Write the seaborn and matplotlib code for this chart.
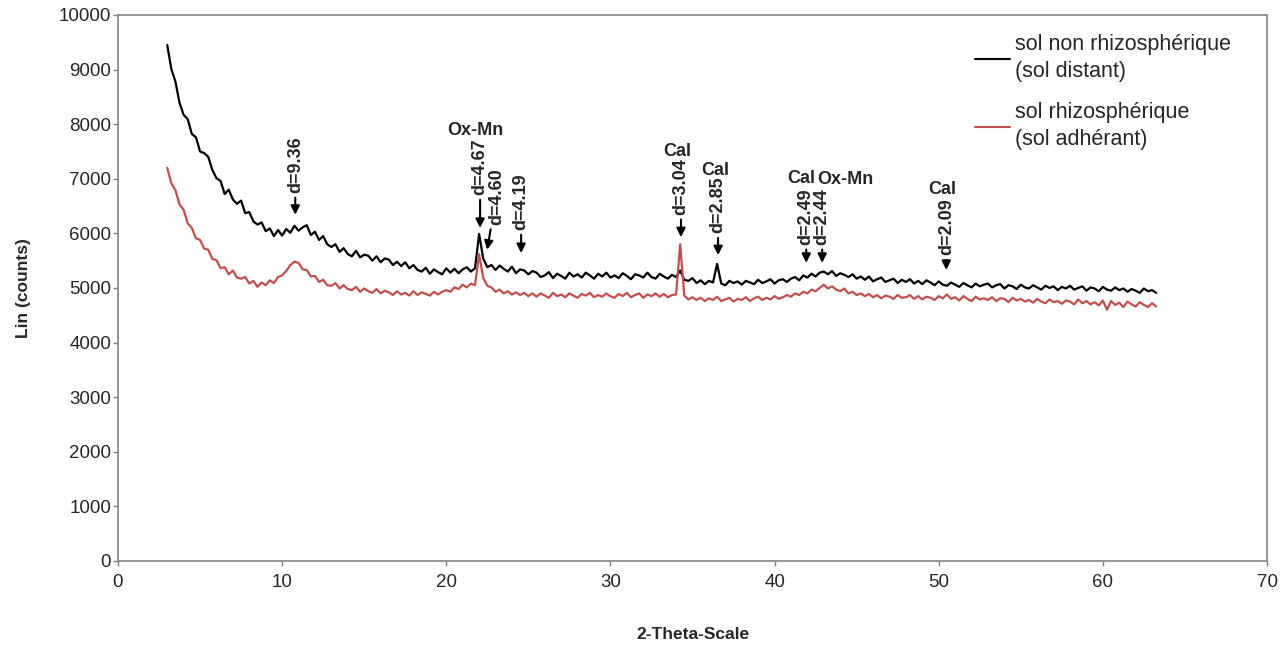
import matplotlib
matplotlib.use('agg')
import seaborn as sns
import matplotlib.pyplot as plt
from matplotlib.lines import Line2D
import numpy as np
import pandas as pd

sns.set_style('white')
plt.rcParams['font.family'] = ['Liberation Sans', 'DejaVu Sans']

# 2-theta sampling grid (degrees), 0.25 step
two_theta = np.round(np.arange(3.0, 63.26, 0.25), 2)

# counts, sol non rhizospherique (black)
sol_distant = [
    9450, 9010, 8780, 8390, 8170, 8090, 7820, 7760, 7500, 7470,
    7400, 7160, 7010, 6960, 6720, 6800, 6620, 6540, 6600, 6370,
    6390, 6220, 6160, 6200, 6040, 6090, 5950, 6060, 5960, 6080,
    6010, 6140, 6050, 6110, 6150, 5970, 6030, 5880, 5950, 5800,
    5750, 5800, 5660, 5730, 5620, 5580, 5680, 5560, 5610, 5590,
    5500, 5580, 5470, 5540, 5520, 5420, 5480, 5400, 5470, 5360,
    5420, 5330, 5300, 5370, 5260, 5340, 5290, 5250, 5360, 5280,
    5350, 5270, 5340, 5380, 5300, 5360, 5990, 5540, 5380, 5420,
    5330, 5410, 5350, 5300, 5390, 5270, 5340, 5320, 5250, 5310,
    5280, 5200, 5230, 5290, 5180, 5260, 5220, 5170, 5280, 5210,
    5250, 5190, 5280, 5230, 5170, 5260, 5210, 5280, 5190, 5230,
    5180, 5270, 5220, 5160, 5250, 5230, 5190, 5280, 5200, 5170,
    5260, 5210, 5170, 5240, 5200, 5320, 5150, 5130, 5180, 5090,
    5140, 5070, 5130, 5100, 5440, 5080, 5050, 5130, 5090, 5120,
    5060, 5130, 5100, 5070, 5150, 5090, 5120, 5160, 5080, 5140,
    5160, 5110, 5170, 5200, 5140, 5230, 5190, 5260, 5210, 5280,
    5300, 5250, 5310, 5220, 5270, 5240, 5200, 5250, 5170, 5210,
    5150, 5210, 5120, 5160, 5190, 5110, 5140, 5170, 5090, 5150,
    5110, 5160, 5080, 5130, 5070, 5140, 5100, 5050, 5120, 5060,
    5040, 5100, 5060, 5020, 5090, 5050, 5010, 5080, 5030, 5060,
    5080, 5010, 5050, 5070, 4990, 5050, 5030, 4980, 5060, 5010,
    4990, 5050, 5010, 4970, 5040, 5000, 5030, 4960, 5020, 4990,
    5040, 4970, 5000, 5030, 4950, 5010, 4990, 4940, 5020, 4970,
    4950, 5010, 4960, 4990, 4930, 4980, 4950, 4910, 4990, 4940,
    4960, 4910,
]

# counts, sol rhizospherique (red)
sol_adherant = [
    7200, 6920, 6790, 6530, 6430, 6180, 6100, 5910, 5880, 5720,
    5700, 5530, 5510, 5360, 5380, 5250, 5320, 5190, 5170, 5200,
    5080, 5130, 5020, 5100, 5050, 5140, 5090, 5200, 5230, 5310,
    5420, 5480, 5460, 5340, 5330, 5210, 5220, 5110, 5150, 5050,
    5040, 5090, 4990, 5050, 4980, 4960, 5020, 4930, 4990, 4940,
    4910, 4980, 4900, 4950, 4920, 4870, 4940, 4880, 4910, 4860,
    4940, 4870, 4920, 4890, 4860, 4930, 4880, 4930, 4960, 4930,
    5010, 4980, 5060, 5010, 5080, 5050, 5620, 5180, 5040, 5010,
    4930, 4970, 4900, 4940, 4880, 4920, 4870, 4910, 4850, 4900,
    4840, 4900, 4860, 4820, 4910, 4850, 4880, 4830, 4900, 4860,
    4820, 4890, 4860, 4910, 4830, 4870, 4840, 4900, 4850, 4820,
    4890, 4850, 4910, 4830, 4870, 4900, 4820, 4880, 4850, 4900,
    4840, 4890, 4830, 4870, 4880, 5800, 4860, 4790, 4830, 4780,
    4820, 4760, 4810, 4780, 4840, 4760, 4790, 4820, 4750, 4800,
    4780, 4830, 4760, 4810, 4840, 4780, 4820, 4790, 4850, 4800,
    4830, 4870, 4840, 4900, 4870, 4930, 4900, 4970, 4940, 5000,
    5060, 4990, 5030, 4970, 4940, 4990, 4900, 4930, 4870, 4900,
    4850, 4890, 4830, 4870, 4810, 4860, 4840, 4800, 4870, 4820,
    4830, 4870, 4800, 4850, 4790, 4840, 4820, 4780, 4850, 4810,
    4880, 4800, 4830, 4770, 4850, 4800, 4760, 4840, 4790, 4810,
    4780, 4830, 4760, 4810, 4800, 4740, 4820, 4770, 4800, 4750,
    4780, 4730, 4800, 4750, 4720, 4790, 4740, 4760, 4710, 4770,
    4750, 4700, 4790, 4720, 4760, 4700, 4740, 4680, 4770, 4600,
    4760, 4690, 4730, 4650, 4750, 4700, 4660, 4740, 4690, 4650,
    4720, 4660,
]

series_names = ['sol non rhizosphérique\n(sol distant)',
                'sol rhizosphérique\n(sol adhérant)']
series_colors = ['black', '#c0504d']

# peak annotations: d label, 2-theta, arrow tip, text base, phase name
peak_labels = ['d=9.36', 'd=4.67', 'd=4.60', 'd=4.19', 'd=3.04',
               'd=2.85', 'd=2.49', 'd=2.44', 'd=2.09']
peak_pos = [10.8, 22.06, 23.05, 24.56, 34.3, 36.56, 41.93, 42.9, 50.46]
peak_tip = [6340, 6100, 5700, 5640, 5930, 5600, 5460, 5460, 5330]
peak_text = [6740, 6700, 6160, 6060, 6340, 6000, 5790, 5790, 5600]
phase_labels = ['', 'Ox-Mn', '', '', 'Cal', 'Cal', 'Cal', 'Ox-Mn', 'Cal']
phase_pos = [(0, 0), (21.76, 7890), (0, 0), (0, 0), (34.1, 7490),
             (36.4, 7160), (41.6, 7010), (44.3, 6980), (50.2, 6800)]

df = pd.concat([
    pd.DataFrame({'2-Theta-Scale': two_theta, 'Lin (counts)': sol_distant, 'serie': series_names[0]}),
    pd.DataFrame({'2-Theta-Scale': two_theta, 'Lin (counts)': sol_adherant, 'serie': series_names[1]}),
])

fig, ax = plt.subplots(figsize=(12.88, 6.5), dpi=100)
fig.subplots_adjust(left=0.0916, right=0.9837, bottom=0.137, top=0.977)

sns.lineplot(data=df, x='2-Theta-Scale', y='Lin (counts)', hue='serie',
             palette=series_colors, linewidth=1.6, legend=False, ax=ax)

arrow_kw = dict(arrowstyle='-|>', color='black', lw=1.5,
                mutation_scale=13, shrinkA=1, shrinkB=0)
for i, lab in enumerate(peak_labels):
    tip_x = 22.49 if lab == 'd=4.60' else peak_pos[i]   # slanted arrow for d=4.60
    ax.annotate(lab, xy=(tip_x, peak_tip[i]), xytext=(peak_pos[i], peak_text[i]),
                rotation=90, ha='center', va='bottom', fontsize=13, fontweight='bold',
                arrowprops=arrow_kw)
    if phase_labels[i]:
        ax.text(phase_pos[i][0], phase_pos[i][1], phase_labels[i], ha='center',
                va='center', fontsize=13, fontweight='bold')

ax.set_xlim(0, 70)
ax.set_ylim(0, 10000)
ax.set_xticks(range(0, 71, 10))
ax.set_yticks(range(0, 10001, 1000))
ax.tick_params(axis='both', which='major', length=3.5, width=1, color='#808080',
               labelsize=13.5, bottom=True, left=True, pad=1.5)
ax.tick_params(axis='x', pad=6)
for sp in ax.spines.values():
    sp.set_color('#8c8c8c')
    sp.set_linewidth(1.3)

ax.set_xlabel('2-Theta-Scale', fontsize=12.5, fontweight='bold', labelpad=26)
ax.set_ylabel('Lin (counts)', fontsize=12.5, fontweight='bold', labelpad=20)

handles = [Line2D([0], [0], color=c, lw=1.5) for c in series_colors]
leg = ax.legend(handles, series_names, loc='upper left', bbox_to_anchor=(0.746, 0.965),
                frameon=False, fontsize=15.5, handlelength=1.6, handletextpad=0.25,
                labelspacing=0.9, borderpad=0, borderaxespad=0)
for t in leg.get_texts():
    t.set_linespacing(1.4)

plt.savefig('out.png', dpi=100)
